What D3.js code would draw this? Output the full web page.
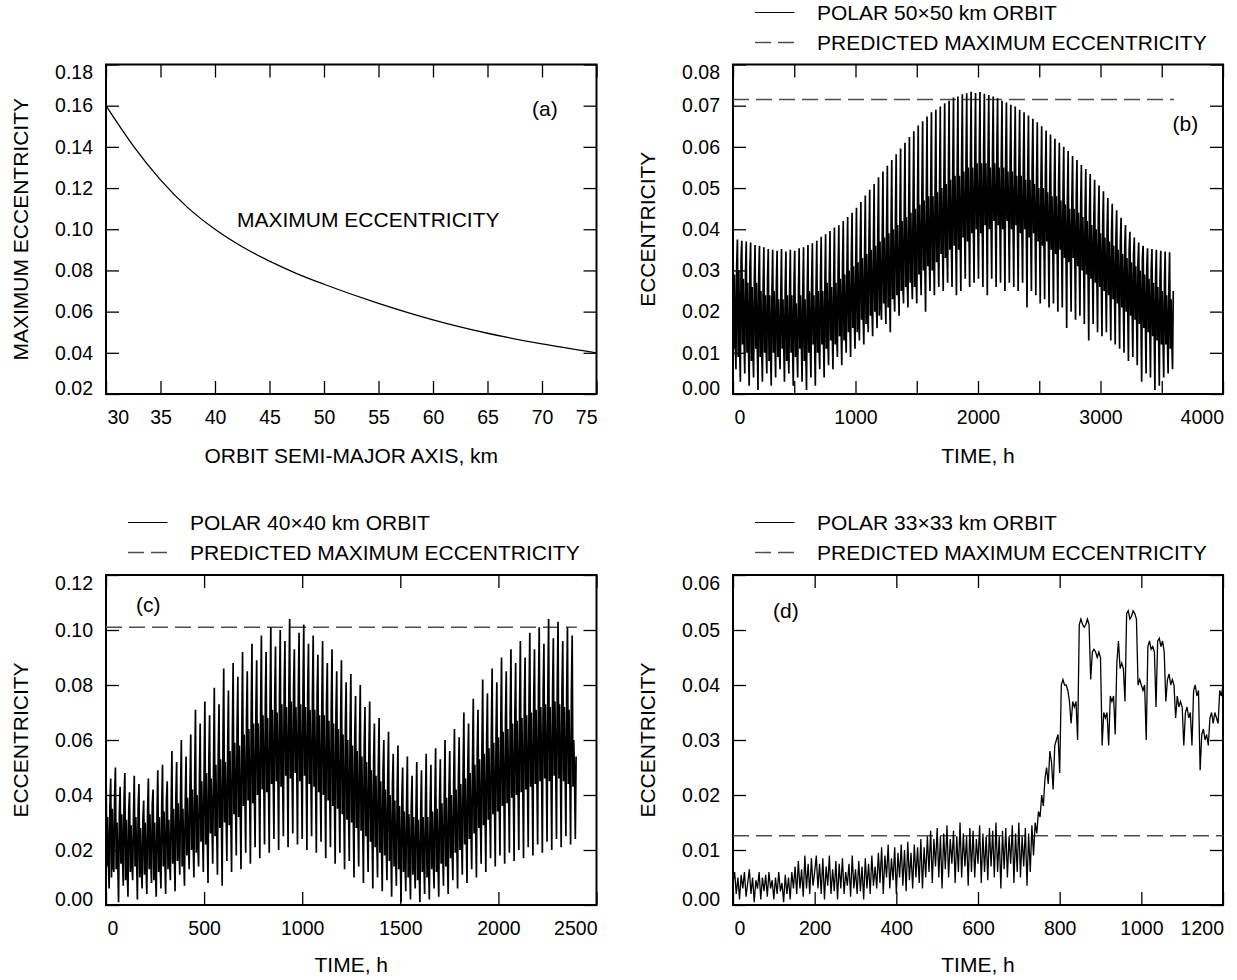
<!DOCTYPE html>
<html>
<head>
<meta charset="utf-8">
<script src="https://d3js.org/d3.v7.min.js"></script>
<style>
  body { margin: 0; background: #fff; }
  svg text { font-family: "Liberation Sans", Arial, Helvetica, sans-serif; fill: #000; }
</style>
</head>
<body>
<script>
// ---------------- data ----------------

// (a) maximum eccentricity vs orbit semi-major axis
const semiMajorAxis = [30, 32.5, 35, 37.5, 40, 42.5, 45, 47.5, 50, 55, 60, 65, 70, 75];
const maxEccentricity = [0.160, 0.1405, 0.1240, 0.1105, 0.1000, 0.0915, 0.0845, 0.0785, 0.0733, 0.0640, 0.0560, 0.0495, 0.0443, 0.0400];
const aXLabels = [30, 35, 40, 45, 50, 55, 60, 65, 70, 75];
const aYLabels = [0.02, 0.04, 0.06, 0.08, 0.10, 0.12, 0.14, 0.16, 0.18];

// (b) polar 50x50 km orbit, one entry per oscillation (36 h, six samples 6 h apart)
const bStepHours = 6;
const bSpikeTop = [
  .0380,.0375,.0372,.0370,.0368,.0362,.0360,.0356,.0352,.0350,
  .0348,.0352,.0346,.0350,.0348,.0354,.0356,.0362,.0366,.0372,
  .0382,.0388,.0396,.0404,.0410,.0420,.0430,.0440,.0452,.0466,
  .0482,.0496,.0510,.0526,.0540,.0554,.0568,.0582,.0596,.0610,
  .0624,.0638,.0652,.0662,.0674,.0684,.0690,.0698,.0706,.0712,
  .0720,.0722,.0728,.0730,.0734,.0731,.0733,.0729,.0726,.0722,
  .0718,.0712,.0708,.0702,.0698,.0690,.0684,.0676,.0668,.0660,
  .0650,.0640,.0630,.0620,.0610,.0600,.0590,.0578,.0568,.0556,
  .0546,.0534,.0520,.0506,.0492,.0476,.0462,.0446,.0428,.0410,
  .0394,.0380,.0368,.0360,.0354,.0352,.0350,.0348,.0346,.0344];
const bCoreLow = [
  .011,.009,.012,.010,.008,.011,.009,.010,.008,.010,
  .009,.011,.008,.010,.009,.011,.008,.010,.012,.010,
  .012,.011,.013,.012,.014,.013,.015,.016,.015,.018,
  .017,.019,.020,.019,.022,.021,.023,.024,.025,.026,
  .027,.026,.029,.030,.031,.030,.032,.034,.033,.035,
  .036,.035,.038,.037,.039,.040,.039,.041,.040,.042,
  .041,.040,.042,.040,.041,.039,.040,.038,.039,.037,
  .036,.037,.035,.034,.035,.033,.032,.033,.031,.030,
  .029,.028,.027,.026,.025,.024,.023,.022,.021,.020,
  .019,.018,.017,.016,.015,.014,.013,.012,.012,.011];
const bCoreHigh2 = [
  .029,.030,.028,.027,.026,.027,.025,.024,.024,.025,
  .023,.023,.024,.024,.022,.024,.023,.025,.024,.025,
  .025,.027,.026,.027,.028,.029,.030,.031,.032,.033,
  .034,.035,.036,.037,.038,.039,.040,.041,.042,.043,
  .044,.045,.046,.047,.048,.048,.049,.050,.051,.052,
  .053,.053,.054,.055,.055,.056,.056,.056,.055,.056,
  .055,.055,.054,.054,.053,.053,.052,.052,.051,.050,
  .050,.049,.048,.048,.047,.046,.045,.045,.044,.043,
  .042,.041,.040,.039,.038,.037,.036,.035,.034,.033,
  .032,.031,.030,.029,.028,.027,.026,.025,.024,.023];
const bCoreLow2 = [
  .013,.012,.013,.012,.011,.012,.011,.012,.011,.012,
  .011,.012,.011,.012,.011,.012,.011,.012,.013,.012,
  .014,.014,.015,.015,.016,.016,.017,.018,.018,.019,
  .020,.021,.022,.023,.024,.024,.025,.026,.027,.028,
  .029,.030,.031,.032,.033,.034,.035,.036,.036,.037,
  .038,.039,.040,.040,.041,.042,.042,.043,.043,.043,
  .043,.042,.042,.042,.041,.041,.041,.040,.040,.039,
  .038,.038,.037,.036,.036,.035,.034,.034,.033,.032,
  .031,.030,.029,.028,.027,.026,.025,.024,.023,.022,
  .021,.020,.019,.018,.017,.016,.015,.014,.013,.013];
const bSpikeBottom = [
  .006,.003,.005,.002,.004,.001,.003,.005,.002,.004,
  .006,.003,.005,.002,.004,.003,.001,.004,.002,.006,
  .004,.007,.006,.009,.007,.010,.009,.011,.013,.012,
  .015,.014,.016,.018,.017,.015,.020,.019,.022,.021,
  .023,.022,.024,.020,.025,.024,.026,.025,.027,.026,
  .024,.025,.028,.026,.027,.028,.026,.024,.028,.026,
  .027,.025,.027,.026,.025,.027,.021,.025,.024,.022,
  .023,.021,.022,.020,.021,.016,.020,.018,.019,.017,
  .013,.017,.015,.014,.015,.013,.012,.011,.010,.008,
  .009,.007,.003,.005,.004,.001,.002,.004,.005,.006];
const bCoreHigh = [
  .031,.033,.029,.031,.028,.029,.026,.028,.025,.027,
  .024,.026,.025,.027,.024,.026,.025,.027,.026,.028,
  .027,.029,.028,.030,.031,.030,.033,.032,.035,.034,
  .037,.036,.039,.038,.041,.040,.043,.042,.045,.044,
  .047,.046,.049,.048,.050,.051,.050,.053,.052,.055,
  .054,.056,.057,.056,.058,.057,.059,.058,.057,.059,
  .057,.058,.056,.057,.055,.056,.054,.055,.053,.052,
  .053,.051,.050,.051,.049,.048,.047,.048,.046,.045,
  .044,.043,.042,.041,.040,.039,.038,.037,.036,.035,
  .034,.032,.033,.031,.030,.029,.028,.027,.026,.025];
const bPredicted = 0.0715, bPredictedEnd = 3600;
const bXLabels = [0, 1000, 2000, 3000, 4000];
const bXMarks = [500, 1500, 2500, 3500];
const bYLabels = [0, 0.01, 0.02, 0.03, 0.04, 0.05, 0.06, 0.07, 0.08];

// (c) polar 40x40 km orbit, one entry per oscillation (24 h, six samples 4 h apart)
const cStepHours = 4;
const cSpikeTop = [
  .054,.046,.050,.043,.048,.041,.047,.044,.038,.046,
  .042,.049,.051,.045,.056,.052,.060,.054,.062,.071,
  .066,.074,.069,.079,.073,.086,.078,.088,.083,.092,
  .085,.095,.089,.098,.092,.101,.094,.100,.096,.104,
  .093,.099,.102,.095,.098,.091,.096,.088,.093,.085,
  .089,.081,.084,.076,.080,.072,.074,.066,.068,.060,
  .063,.055,.058,.050,.054,.047,.052,.049,.055,.051,
  .057,.053,.060,.056,.064,.061,.070,.066,.075,.071,
  .082,.077,.086,.081,.090,.085,.093,.088,.096,.090,
  .099,.093,.101,.095,.104,.097,.103,.096,.101,.098];
const cCoreLow = [
  .014,.010,.013,.015,.009,.012,.014,.010,.011,.013,
  .009,.012,.014,.013,.015,.016,.014,.018,.020,.019,
  .023,.022,.026,.025,.028,.030,.029,.033,.032,.036,
  .038,.037,.040,.042,.041,.044,.045,.043,.047,.046,
  .048,.045,.047,.044,.043,.041,.040,.038,.036,.035,
  .033,.031,.030,.028,.027,.025,.023,.021,.019,.018,
  .016,.014,.013,.012,.010,.011,.009,.012,.010,.013,
  .012,.015,.014,.017,.019,.020,.022,.024,.026,.028,
  .029,.031,.033,.034,.036,.037,.039,.040,.041,.042,
  .043,.044,.045,.046,.045,.047,.046,.045,.044,.043];
const cCoreHigh2 = [
  .032,.035,.030,.033,.031,.029,.032,.028,.030,.033,
  .030,.032,.034,.031,.035,.037,.035,.039,.042,.040,
  .045,.048,.046,.051,.053,.052,.056,.059,.058,.062,
  .064,.066,.066,.069,.068,.071,.070,.073,.072,.074,
  .072,.073,.072,.071,.071,.069,.069,.067,.066,.064,
  .062,.060,.058,.056,.054,.052,.049,.047,.045,.042,
  .040,.038,.036,.034,.033,.032,.031,.032,.032,.034,
  .035,.037,.039,.040,.042,.044,.046,.048,.051,.053,
  .055,.057,.059,.061,.063,.064,.066,.067,.068,.069,
  .070,.071,.072,.073,.072,.074,.073,.072,.071,.060];
const cCoreLow2 = [
  .017,.014,.016,.018,.013,.015,.017,.014,.015,.016,
  .013,.015,.017,.016,.019,.020,.018,.022,.024,.023,
  .027,.026,.030,.029,.032,.034,.033,.037,.036,.040,
  .042,.041,.044,.046,.045,.048,.049,.047,.051,.050,
  .052,.049,.051,.048,.047,.045,.044,.042,.040,.039,
  .037,.035,.034,.032,.031,.029,.027,.025,.023,.022,
  .020,.018,.017,.016,.014,.015,.013,.016,.014,.017,
  .016,.019,.018,.021,.023,.024,.026,.028,.030,.032,
  .033,.035,.037,.038,.040,.041,.043,.044,.045,.046,
  .047,.048,.049,.050,.049,.051,.050,.049,.048,.047];
const cSpikeBottom = [
  .006,.012,.001,.007,.003,.009,.002,.006,.004,.008,
  .003,.006,.004,.009,.005,.011,.007,.013,.010,.014,
  .012,.008,.015,.011,.007,.016,.012,.018,.013,.019,
  .015,.021,.017,.022,.019,.024,.020,.025,.021,.026,
  .022,.024,.020,.025,.019,.023,.017,.021,.015,.019,
  .013,.016,.010,.014,.008,.012,.006,.010,.005,.009,
  .003,.007,.001,.005,.002,.006,.001,.004,.002,.006,
  .003,.007,.004,.009,.006,.011,.008,.013,.010,.015,
  .012,.017,.014,.018,.015,.019,.016,.020,.017,.021,
  .018,.022,.019,.023,.020,.024,.021,.025,.022,.024];
const cCoreHigh = [
  .036,.040,.033,.038,.035,.032,.036,.031,.034,.037,
  .033,.036,.038,.035,.039,.041,.038,.043,.046,.044,
  .049,.052,.050,.055,.058,.056,.061,.064,.062,.067,
  .069,.071,.070,.074,.072,.076,.075,.078,.077,.079,
  .076,.078,.077,.075,.076,.073,.074,.071,.070,.068,
  .066,.064,.062,.060,.058,.056,.053,.051,.049,.046,
  .044,.041,.039,.037,.036,.035,.034,.036,.035,.037,
  .038,.040,.042,.044,.046,.048,.050,.052,.055,.057,
  .059,.061,.063,.065,.067,.069,.070,.072,.073,.074,
  .075,.076,.077,.078,.077,.079,.078,.077,.076,.054];
const cPredicted = 0.101, cPredictedEnd = 2400;
const cXLabels = [0, 500, 1000, 1500, 2000, 2500];
const cXMarks = [];
const cYLabels = [0, 0.02, 0.04, 0.06, 0.08, 0.10, 0.12];

// (d) polar 33x33 km orbit, sampled every 4 h from 0 to 1200 h
const dStepHours = 4;
const dEccentricity = [
  .004,.006,.002,.005,.001,.0055,.003,.006,.0015,.004,
  .0065,.002,.005,.0005,.0045,.003,.006,.001,.005,.0025,
  .0055,.0015,.006,.003,.0045,.001,.005,.002,.006,.0025,
  .004,.0005,.0055,.002,.005,.001,.006,.003,
  .007,.002,.008,.003,.0065,.0015,.009,.003,.0075,.002,.0085,.0035,
  .006,.009,.003,.0075,.002,.0085,.001,.007,.0035,.009,
  .002,.0065,.0025,.008,.001,.0075,.003,.0085,.002,.006,
  .0035,.0075,.0015,.009,.003,.0065,.002,.008,.0025,.007,
  .001,.0085,.003,.0075,.002,.009,.0035,.007,
  .003,.0095,.004,.0105,.002,.009,.005,.011,.003,.0085,
  .0045,.0105,.002,.0095,.005,.011,.0035,.010,.0025,.0115,
  .0045,.0095,.003,.011,.005,.0105,.004,.012,.003,.0105,
  .005,.0125,.006,.0135,.004,.012,.007,.014,.005,.0125,
  .003,.013,.0065,.0145,.005,.012,.0075,.0135,.004,.0125,
  .006,.015,.005,.013,.007,.0125,.0035,.014,.006,.0135,
  .005,.012,.0075,.0145,.004,.013,.006,.0125,.0045,.014,
  .007,.0135,.005,.015,.006,.0125,.003,.0135,.0065,.014,
  .005,.0125,.0075,.0145,.004,.013,.006,.015,.005,.0125,
  .007,.014,.0035,.013,.006,.0145,.009,
  .015,.013,.017,.016,.020,.018,.023,.025,.022,.028,
  .026,.021,.029,.030,.031,.024,.040,.041,.040,.040,
  .039,.037,.033,.037,.036,.037,.030,.051,.052,.051,
  .0505,.051,.052,.051,.041,.046,.0465,.046,.045,.046,
  .045,.029,.035,.034,.035,.029,.038,.037,.038,.031,
  .044,.048,.043,.044,.043,.037,.053,.0535,.052,.0525,
  .0535,.053,.052,.040,.041,.040,.039,.040,.030,.047,
  .048,.0465,.047,.046,.036,.048,.0485,.047,.048,.046,
  .037,.041,.042,.040,.041,.040,.034,.038,.036,.037,
  .036,.029,.035,.036,.034,.035,.029,.039,.040,.038,
  .039,.0245,.031,.032,.030,.031,.029,.034,.035,.033,
  .035,.034,.033,.039,.038,.040];
const dPredicted = 0.0126, dPredictedEnd = 1200;
const dXLabels = [0, 200, 400, 600, 800, 1000, 1200];
const dXMarks = [];
const dYLabels = [0, 0.01, 0.02, 0.03, 0.04, 0.05, 0.06];

// ---------------- drawing ----------------
const width = 1237, height = 980;
const tickLen = 13;

const svg = d3.select("body").append("svg")
    .attr("width", width)
    .attr("height", height);

// lay the six readings of every oscillation one after the other in time
function cycles(step, parts) {
    const pts = [];
    parts[0].forEach((_, k) => {
        parts.forEach((arr, j) => pts.push({t: (parts.length * k + j) * step, e: arr[k]}));
    });
    return pts;
}

function styleAxis(sel) {
    sel.select(".domain").remove();
    sel.selectAll(".tick line").attr("stroke", "#000").attr("stroke-width", 1.3);
    sel.attr("font-size", 19.5);
}

function drawPanel(p) {
    let x = d3.scaleLinear().domain(p.xDomain).range([p.left, p.right]);
    let y = d3.scaleLinear().domain(p.yDomain).range([p.bottom, p.top]);
    let g = svg.append("g");

    let xVals = p.xLabels.concat(p.xMarks).sort((a, b) => a - b);

    // bottom axis with labels, ticks pointing inwards
    let gx = g.append("g")
        .attr("transform", `translate(0,${p.bottom})`)
        .call(d3.axisBottom(x).tickValues(xVals).tickSize(-tickLen).tickPadding(16)
            .tickFormat(d => p.xLabels.includes(d) ? d : ""))
        .call(styleAxis);
    gx.selectAll(".tick text").filter(d => d === p.xDomain[0]).attr("text-anchor", "start").attr("x", 1);
    gx.selectAll(".tick text").filter(d => d === p.xDomain[1]).attr("text-anchor", "end").attr("x", 0.5);

    g.append("g")
        .attr("transform", `translate(0,${p.top})`)
        .call(d3.axisTop(x).tickValues(xVals).tickSize(-tickLen).tickFormat(""))
        .call(styleAxis);

    let gy = g.append("g")
        .attr("transform", `translate(${p.left},0)`)
        .call(d3.axisLeft(y).tickValues(p.yLabels).tickSize(-tickLen).tickPadding(13)
            .tickFormat(d3.format(".2f")))
        .call(styleAxis);
    let n = p.yLabels.length;
    gy.selectAll(".tick text").filter((d, i) => i === 0).attr("y", -5.5);
    gy.selectAll(".tick text").filter((d, i) => i === n - 1).attr("y", 8);

    g.append("g")
        .attr("transform", `translate(${p.right},0)`)
        .call(d3.axisRight(y).tickValues(p.yLabels).tickSize(-tickLen).tickFormat(""))
        .call(styleAxis);

    // frame
    g.append("rect")
        .attr("x", p.left).attr("y", p.top)
        .attr("width", p.right - p.left).attr("height", p.bottom - p.top)
        .attr("fill", "none").attr("stroke", "#000").attr("stroke-width", 2);

    // axis titles
    g.append("text")
        .attr("x", (p.left + p.right) / 2).attr("y", p.bottom + p.titleGap)
        .attr("text-anchor", "middle").attr("font-size", 21)
        .text(p.xTitle);
    g.append("text")
        .attr("transform", `translate(${p.left - 78.5},${(p.top + p.bottom) / 2}) rotate(-90)`)
        .attr("text-anchor", "middle").attr("font-size", 21)
        .text(p.yTitle);

    // panel tag
    g.append("text")
        .attr("x", p.tagX).attr("y", p.tagY)
        .attr("font-size", 21)
        .text(p.tag);

    // predicted maximum eccentricity
    if (p.predicted !== undefined) {
        g.append("line")
            .attr("x1", x(0)).attr("x2", x(p.predictedEnd))
            .attr("y1", y(p.predicted)).attr("y2", y(p.predicted))
            .attr("stroke", "#4d4d4d").attr("stroke-width", 1.4)
            .attr("stroke-dasharray", "16,7");
    }

    // series
    g.append("path")
        .datum(p.data)
        .attr("fill", "none")
        .attr("stroke", "#000")
        .attr("stroke-width", p.lineWidth)
        .attr("stroke-linejoin", "miter")
        .attr("d", d3.line().x(d => x(d.t)).y(d => y(d.e)).curve(p.curve || d3.curveLinear));

    // legend above the frame
    if (p.legend) {
        let lg = g.append("g");
        let rows = [{label: p.legend, dash: null, color: "#000"},
                    {label: "PREDICTED MAXIMUM ECCENTRICITY", dash: "16,7", color: "#4d4d4d"}];
        rows.forEach((r, i) => {
            let ly = p.legendY + i * 30;
            lg.append("line")
                .attr("x1", p.legendX).attr("x2", p.legendX + 39.5)
                .attr("y1", ly).attr("y2", ly)
                .attr("stroke", r.color).attr("stroke-width", r.dash ? 1.4 : 1.2)
                .attr("stroke-dasharray", r.dash);
            lg.append("text")
                .attr("x", p.legendTextX).attr("y", ly + 7.5)
                .attr("font-size", 21)
                .text(r.label);
        });
    }
    return {x: x, y: y, g: g};
}

// (a)
let pa = drawPanel({
    left: 106, right: 596.5, top: 64.5, bottom: 394,
    xDomain: [30, 75], yDomain: [0.02, 0.18],
    xLabels: aXLabels, xMarks: [], yLabels: aYLabels,
    xTitle: "ORBIT SEMI-MAJOR AXIS, km", yTitle: "MAXIMUM ECCENTRICITY", titleGap: 69,
    tag: "(a)", tagX: 532, tagY: 116,
    data: semiMajorAxis.map((a, i) => ({t: a, e: maxEccentricity[i]})),
    curve: d3.curveMonotoneX, lineWidth: 1.3
});
pa.g.append("text")
    .attr("x", 237).attr("y", 226.5)
    .attr("font-size", 21)
    .text("MAXIMUM ECCENTRICITY");

// (b)
drawPanel({
    left: 733, right: 1223, top: 64.5, bottom: 394,
    xDomain: [0, 4000], yDomain: [0, 0.08],
    xLabels: bXLabels, xMarks: bXMarks, yLabels: bYLabels,
    xTitle: "TIME, h", yTitle: "ECCENTRICITY", titleGap: 69,
    tag: "(b)", tagX: 1172.5, tagY: 131,
    data: cycles(bStepHours, [bSpikeTop, bCoreLow, bCoreHigh2, bCoreLow2, bSpikeBottom, bCoreHigh]),
    lineWidth: 1.7,
    predicted: bPredicted, predictedEnd: bPredictedEnd,
    legend: "POLAR 50\u00d750 km ORBIT", legendX: 755, legendTextX: 817, legendY: 12.5
});

// (c)
drawPanel({
    left: 106, right: 596.5, top: 575, bottom: 905,
    xDomain: [0, 2500], yDomain: [0, 0.12],
    xLabels: cXLabels, xMarks: cXMarks, yLabels: cYLabels,
    xTitle: "TIME, h", yTitle: "ECCENTRICITY", titleGap: 67,
    tag: "(c)", tagX: 136, tagY: 612,
    data: cycles(cStepHours, [cSpikeTop, cCoreLow, cCoreHigh2, cCoreLow2, cSpikeBottom, cCoreHigh]),
    lineWidth: 1.7,
    predicted: cPredicted, predictedEnd: cPredictedEnd,
    legend: "POLAR 40\u00d740 km ORBIT", legendX: 128, legendTextX: 190, legendY: 522.5
});

// (d)
drawPanel({
    left: 733, right: 1223, top: 575, bottom: 905,
    xDomain: [0, 1200], yDomain: [0, 0.06],
    xLabels: dXLabels, xMarks: dXMarks, yLabels: dYLabels,
    xTitle: "TIME, h", yTitle: "ECCENTRICITY", titleGap: 67,
    tag: "(d)", tagX: 773, tagY: 617.5,
    data: dEccentricity.map((e, i) => ({t: i * dStepHours, e: e})),
    lineWidth: 1.3,
    predicted: dPredicted, predictedEnd: dPredictedEnd,
    legend: "POLAR 33\u00d733 km ORBIT", legendX: 755, legendTextX: 817, legendY: 522.5
});
</script>
</body>
</html>
